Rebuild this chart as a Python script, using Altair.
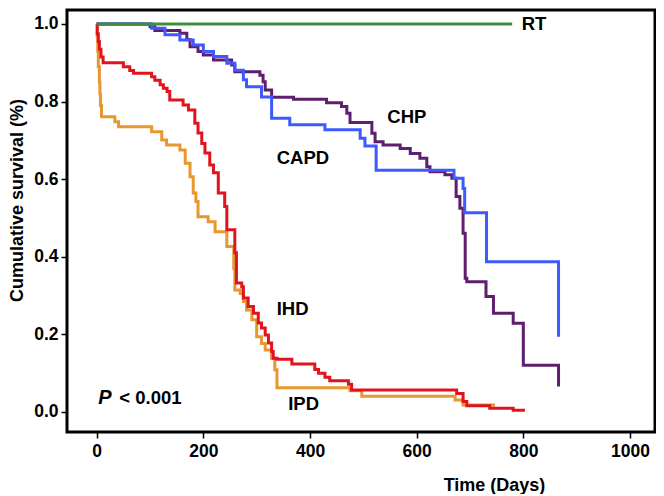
import altair as alt
import pandas as pd

# ---- data (Kaplan-Meier step curves) ----
rt_days = [0, 779]
rt_surv = [1.0, 1.0]

ihd_days = [0, 1, 3, 5, 8, 12, 50, 62, 69, 103, 109, 119, 125, 132, 137, 162, 172, 184, 190,
            197, 203, 212, 219, 228, 240, 244, 259, 262, 272, 275, 284, 294, 303, 309, 316,
            322, 328, 331, 338, 366, 409, 416, 428, 437, 472, 478, 675, 687, 694, 737, 781, 803]
ihd_surv = [1.0, 0.975, 0.955, 0.935, 0.915, 0.90, 0.89, 0.88, 0.873, 0.864, 0.855, 0.843,
            0.834, 0.826, 0.804, 0.791, 0.778, 0.744, 0.719, 0.692, 0.667, 0.636, 0.616, 0.564,
            0.529, 0.469, 0.41, 0.332, 0.322, 0.293, 0.271, 0.254, 0.229, 0.216, 0.198, 0.177,
            0.155, 0.138, 0.135, 0.123, 0.109, 0.099, 0.089, 0.080, 0.071, 0.056, 0.047, 0.026,
            0.015, 0.009, 0.004, 0.004]

ipd_days = [0, 1, 2, 3, 5, 6, 7, 9, 34, 41, 103, 122, 131, 156, 166, 175, 181, 186, 190, 209,
            222, 244, 257, 259, 269, 275, 281, 291, 300, 309, 316, 328, 334, 338, 475, 497,
            672, 687, 747]
ipd_surv = [1.0, 0.97, 0.93, 0.89, 0.85, 0.82, 0.79, 0.761, 0.748, 0.735, 0.722, 0.701, 0.688,
            0.675, 0.641, 0.606, 0.564, 0.542, 0.503, 0.49, 0.464, 0.426, 0.37, 0.314, 0.305,
            0.284, 0.262, 0.237, 0.193, 0.176, 0.159, 0.138, 0.108, 0.062, 0.054, 0.040,
            0.030, 0.017, 0.017]

capd_days = [0, 103, 128, 156, 181, 200, 219, 244, 259, 275, 281, 309, 328, 362, 428, 494,
             503, 524, 670, 687, 690, 731, 866]
capd_surv = [1.0, 0.989, 0.972, 0.959, 0.946, 0.929, 0.916, 0.899, 0.881, 0.856, 0.838, 0.812,
             0.757, 0.740, 0.727, 0.705, 0.685, 0.623, 0.602, 0.576, 0.513, 0.387, 0.193]

chp_days = [0, 100, 109, 156, 169, 175, 190, 200, 219, 253, 259, 306, 312, 316, 328, 369, 431,
            459, 469, 475, 516, 522, 537, 569, 588, 606, 619, 625, 653, 666, 674, 681, 687, 691,
            694, 730, 744, 781, 800, 866]
chp_surv = [1.0, 0.993, 0.983, 0.976, 0.96, 0.941, 0.929, 0.92, 0.907, 0.894, 0.877, 0.868,
            0.851, 0.830, 0.811, 0.806, 0.797, 0.787, 0.770, 0.746, 0.718, 0.696, 0.688, 0.679,
            0.666, 0.654, 0.632, 0.619, 0.611, 0.602, 0.555, 0.525, 0.460, 0.344, 0.335, 0.297,
            0.254, 0.228, 0.120, 0.065]

label_text = ["RT", "CHP", "CAPD", "IHD", "IPD", "< 0.001"]
label_x = [797, 545, 337.5, 337.5, 359, 42.4]
label_y = [1.0, 0.759, 0.654, 0.265, 0.020, 0.035]
p_text = ["P"]
p_x = [3]
p_y = [0.035]

x_ticks = [0, 200, 400, 600, 800, 1000]
y_ticks = [0.0, 0.2, 0.4, 0.6, 0.8, 1.0]

FONT = "Liberation Sans"

xscale = alt.Scale(domain=[-55.7, 1046.9], nice=False, zero=False)
yscale = alt.Scale(domain=[-0.0524, 1.0361], nice=False, zero=False)

xaxis = alt.Axis(values=x_ticks, format="d", title="Time (Days)", labelPadding=4,
                 titleX=427, titleY=53, titleBaseline="middle", titleAlign="center",
                 titleAnchor="start")
yaxis = alt.Axis(values=y_ticks, format=".1f", title="Cumulative survival (%)", labelPadding=3,
                 titleX=-41, titleY=190, titleAngle=270, titleBaseline="bottom",
                 titleAlign="center", titleAnchor="start")


def curve(days, surv, color):
    df = pd.DataFrame({"day": days, "surv": surv})
    return alt.Chart(df).mark_line(interpolate="step-after", color=color, strokeWidth=3).encode(
        x=alt.X("day:Q", scale=xscale, axis=xaxis),
        y=alt.Y("surv:Q", scale=yscale, axis=yaxis),
    )


layers = [
    curve(ipd_days, ipd_surv, "#E8962E"),
    curve(ihd_days, ihd_surv, "#E0141E"),
    curve(chp_days, chp_surv, "#5E1F6E"),
    curve(capd_days, capd_surv, "#3D5AFE"),
    curve(rt_days, rt_surv, "#3E8E3E"),
]

labels_df = pd.DataFrame({"label": label_text, "x": label_x, "y": label_y})
labels = alt.Chart(labels_df).mark_text(
    align="left", baseline="middle", font=FONT, fontSize=18.5, fontWeight="bold", color="black"
).encode(
    x=alt.X("x:Q", scale=xscale, axis=xaxis),
    y=alt.Y("y:Q", scale=yscale, axis=yaxis),
    text="label:N",
)

p_df = pd.DataFrame({"label": p_text, "x": p_x, "y": p_y})
p_label = alt.Chart(p_df).mark_text(
    align="left", baseline="middle", font=FONT, fontSize=20, fontWeight="bold",
    fontStyle="italic", color="black"
).encode(
    x=alt.X("x:Q", scale=xscale, axis=xaxis),
    y=alt.Y("y:Q", scale=yscale, axis=yaxis),
    text="label:N",
)

chart = alt.layer(*layers, labels, p_label).properties(
    width=588,
    height=422,
    autosize=alt.AutoSizeParams(type="none"),
    padding={"left": 59, "top": 2, "right": 1, "bottom": 62},
).configure_view(
    stroke="black", strokeWidth=3
).configure_axis(
    grid=False, domain=False, tickColor="black", tickWidth=1.5, tickSize=6,
    labelColor="black", labelFont=FONT, labelFontSize=17.5, labelFontWeight="bold",
    titleColor="black", titleFont=FONT, titleFontSize=18, titleFontWeight="bold",
)

chart.save("out.html", embed_options={"renderer": "svg", "actions": False})
